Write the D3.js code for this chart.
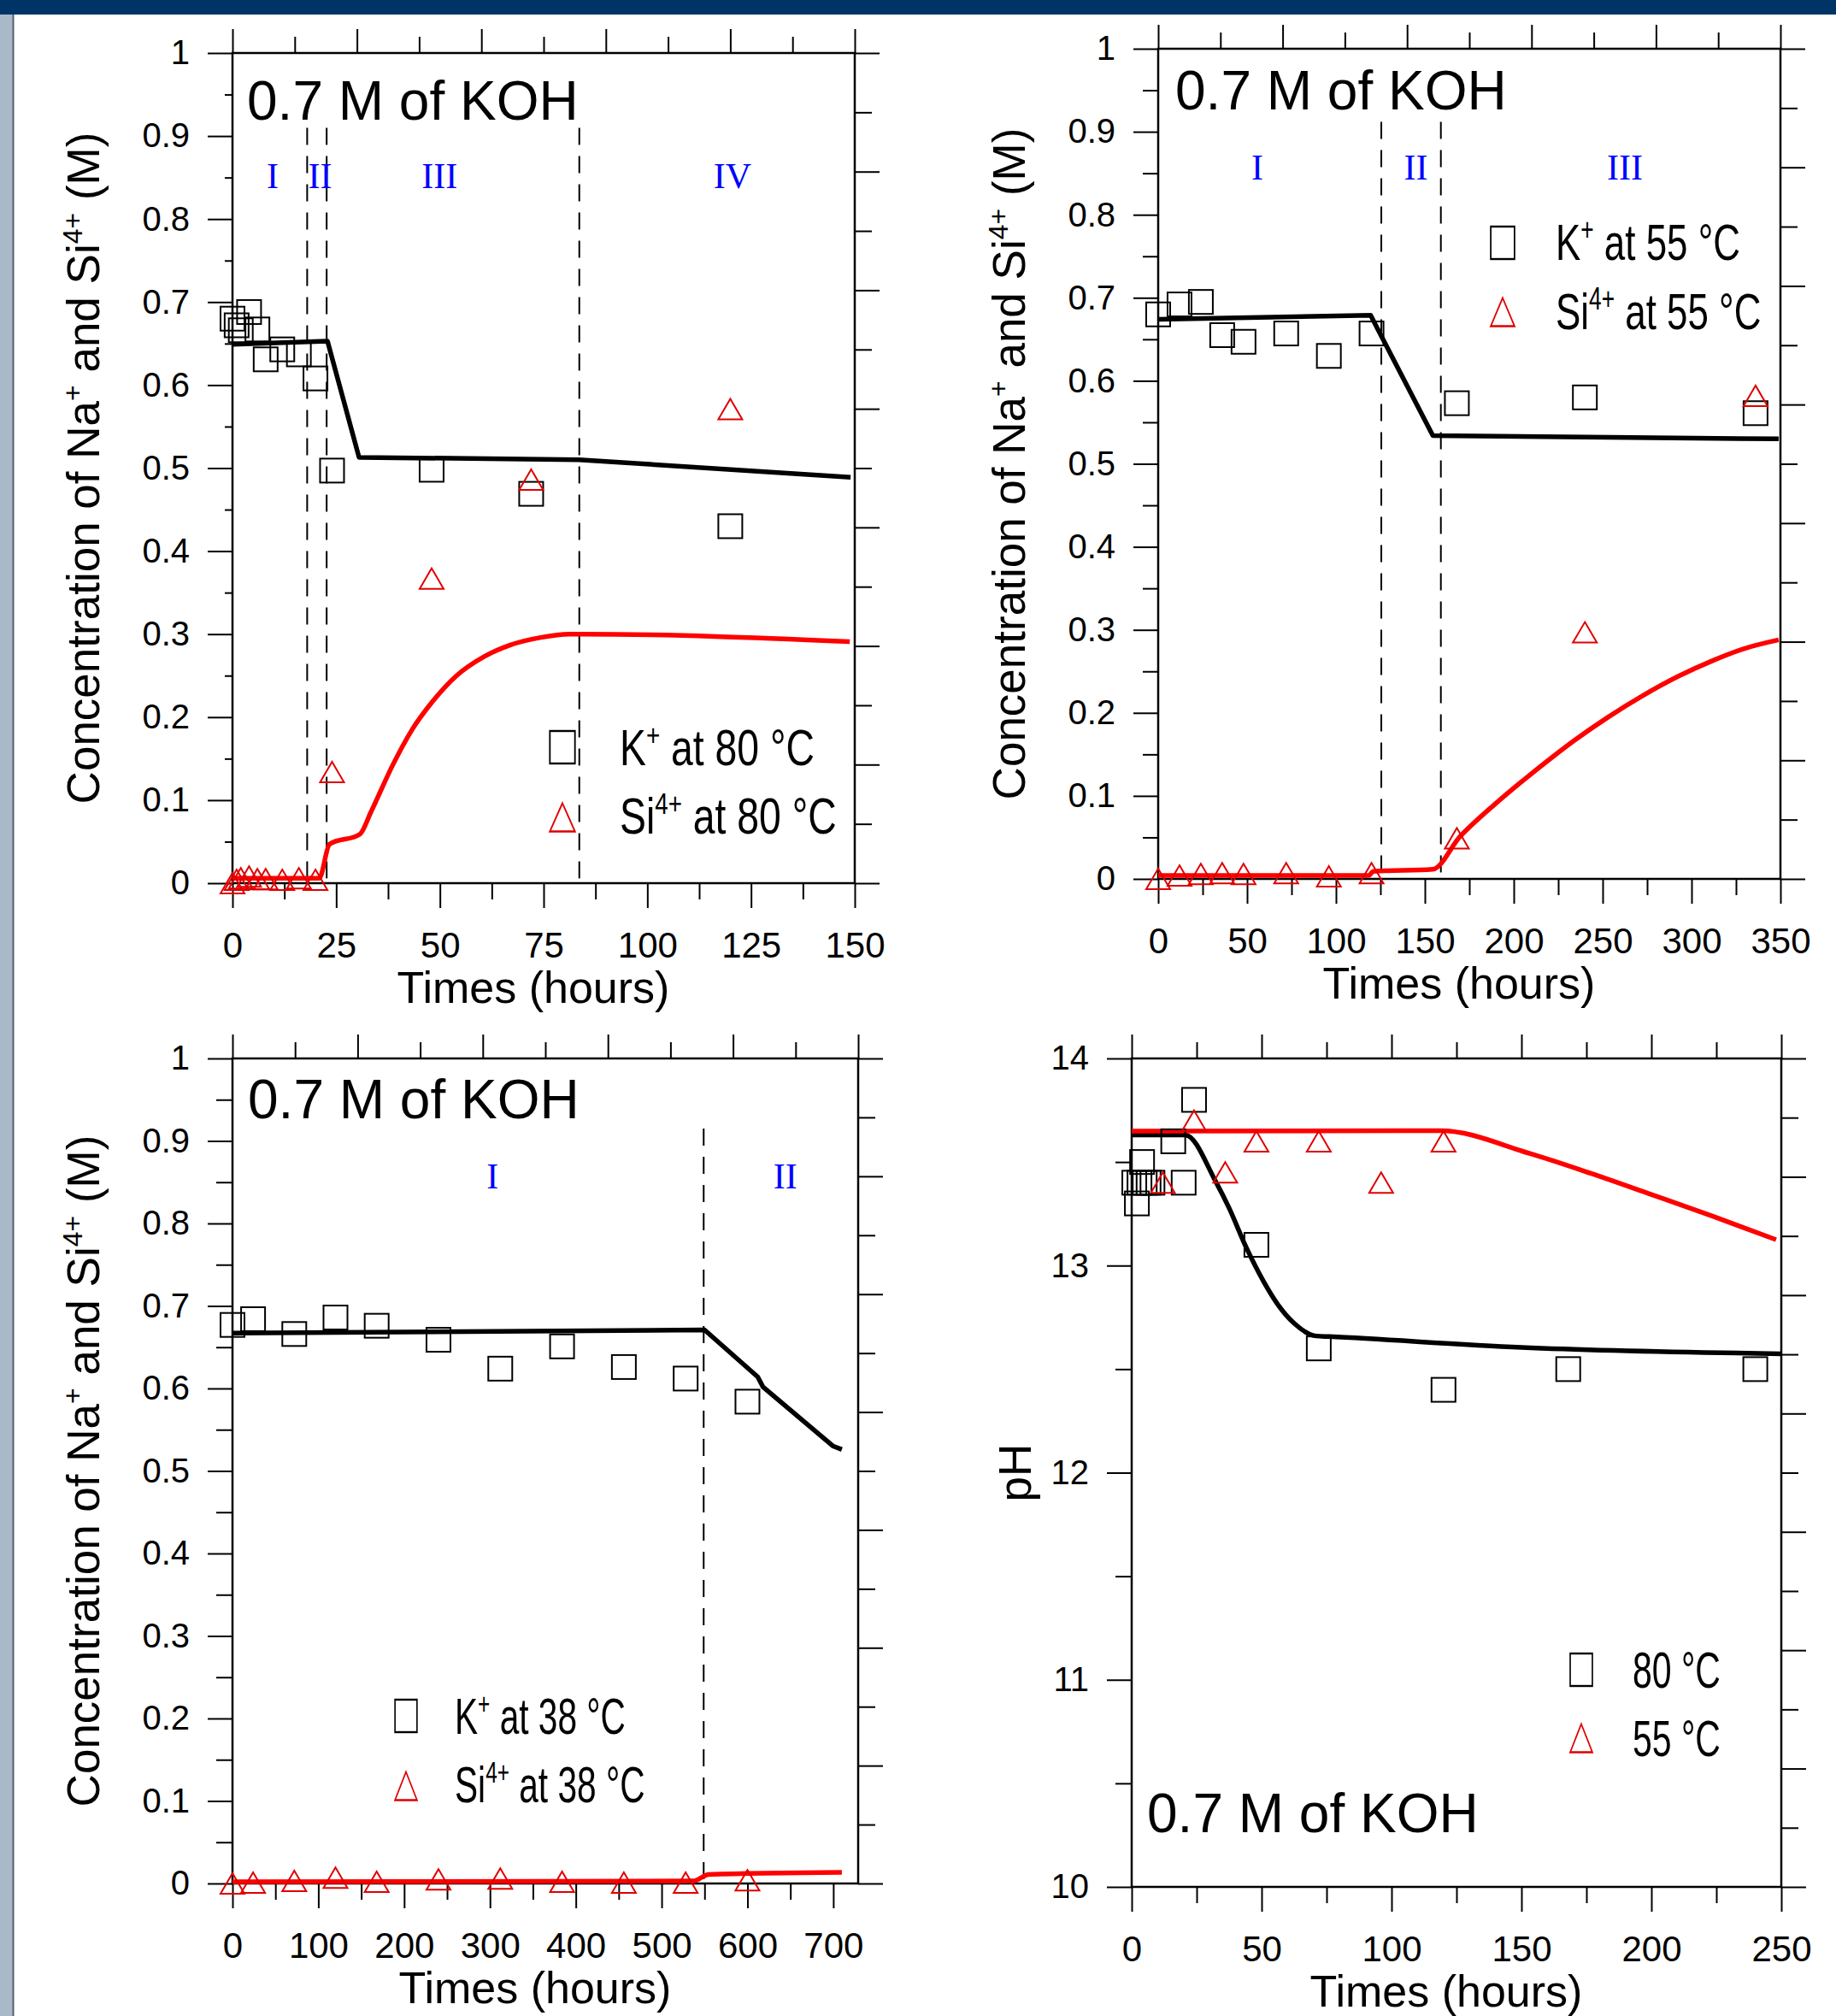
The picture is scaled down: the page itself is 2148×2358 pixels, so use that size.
<!DOCTYPE html>
<html>
<head>
<meta charset="utf-8">
<script src="https://cdn.jsdelivr.net/npm/d3@7"></script>
<style>
  body { margin: 0; background: #fff; }
  svg { display: block; }
  text { font-family: "Liberation Sans", Arial, sans-serif; }
</style>
</head>
<body>
<svg id="chart" width="2148" height="2358"></svg>
<script>
// ---- 80 C, 0.7 M KOH (concentration) ----
var k80Time = [0, 1, 2, 4, 6, 8, 12, 16, 20, 24, 48, 72, 120];
var k80Conc = [0.680, 0.672, 0.666, 0.688, 0.667, 0.631, 0.643, 0.637, 0.608, 0.497, 0.498, 0.469, 0.430];
var si80Time = [0, 1, 2, 4, 6, 8, 12, 16, 20, 24, 48, 72, 120];
var si80Conc = [0.000, 0.004, 0.006, 0.008, 0.005, 0.005, 0.004, 0.006, 0.004, 0.134, 0.367, 0.486, 0.571];
var k80ModelTime = [0, 22.9, 30.5, 83.5, 149];
var k80ModelConc = [0.649, 0.653, 0.513, 0.510, 0.489];
var si80ModelTime = [0, 20.9, 23.4, 30.7, 33.4, 38.6, 43.3, 48.1, 53.8, 60.7, 67, 74.3, 81.2, 83.9, 148.8];
var si80ModelConc = [0.006, 0.006, 0.047, 0.059, 0.086, 0.142, 0.185, 0.218, 0.249, 0.273, 0.287, 0.296, 0.300, 0.300, 0.291];

// ---- 55 C ----
var k55Time = [0, 12, 24, 36, 48, 72, 96, 120, 168, 240, 336];
var k55Conc = [0.680, 0.692, 0.695, 0.655, 0.647, 0.657, 0.630, 0.657, 0.573, 0.580, 0.561];
var si55Time = [0, 12, 24, 36, 48, 72, 96, 120, 168, 240, 336];
var si55Conc = [0.000, 0.004, 0.006, 0.007, 0.006, 0.007, 0.003, 0.007, 0.049, 0.297, 0.582];
var k55ModelTime = [0, 119.5, 125.5, 154.5, 349];
var k55ModelConc = [0.674, 0.679, 0.654, 0.534, 0.530];
var si55ModelTime = [0, 118.5, 120.9, 154.3, 169.8, 189.4, 206.6, 221.3, 233.6, 253.2, 272.8, 292.5, 312, 329, 349];
var si55ModelConc = [0.004, 0.004, 0.009, 0.0115, 0.051, 0.090, 0.121, 0.146, 0.166, 0.195, 0.221, 0.244, 0.263, 0.277, 0.288];

// ---- 38 C ----
var k38Time = [0, 24, 72, 120, 168, 240, 312, 384, 456, 528, 600];
var k38Conc = [0.677, 0.684, 0.666, 0.686, 0.676, 0.659, 0.624, 0.651, 0.626, 0.612, 0.584];
var si38Time = [0, 24, 72, 120, 168, 240, 312, 384, 456, 528, 600];
var si38Conc = [0.000, 0.001, 0.003, 0.007, 0.002, 0.005, 0.006, 0.002, 0.001, 0.001, 0.004];
var k38ModelTime = [0, 550, 612, 618, 700, 710];
var k38ModelConc = [0.667, 0.671, 0.614, 0.602, 0.530, 0.526];
var si38ModelTime = [0, 537, 554.7, 710];
var si38ModelConc = [0.002, 0.003, 0.011, 0.0135];

// ---- pH ----
var ph80Time = [1, 2, 3, 4, 5, 6.5, 8, 16, 20, 24, 48, 72, 120, 168, 240];
var ph80 = [13.4, 13.3, 13.4, 13.5, 13.4, 13.4, 13.4, 13.6, 13.4, 13.8, 13.1, 12.6, 12.4, 12.5, 12.5];
var ph55Time = [12, 24, 36, 48, 72, 96, 120];
var ph55 = [13.40, 13.70, 13.45, 13.60, 13.60, 13.40, 13.60];
var ph80ModelTime = [0, 20.6, 32.4, 37.4, 44.1, 50.9, 55.9, 62.6, 71, 76, 150, 250];
var ph80Model = [13.631, 13.631, 13.404, 13.28, 13.087, 12.92, 12.818, 12.72, 12.66, 12.657, 12.605, 12.574];
var ph55ModelTime = [0, 118.8, 153.2, 176.7, 200.2, 223.7, 248];
var ph55Model = [13.649, 13.651, 13.541, 13.445, 13.342, 13.238, 13.125];

// stage boundaries (hours) and stage labels
var stage80 = [18, 22.7, 83.6];
var stage55 = [125.5, 159];
var stage38 = [549];
var roman80 = ["I", "II", "III", "IV"], roman80X = [9.7, 21.1, 49.9, 120.5];
var roman55 = ["I", "II", "III"], roman55X = [55.8, 145, 262.5];
var roman38 = ["I", "II"], roman38X = [303, 644];

function zip(xs, ys) { return xs.map(function(v, i) { return [v, ys[i]]; }); }

var svg = d3.select("#chart");
var concFmt = function(d) { return d3.format(".1f")(d).replace(/\.0$/, ""); };

svg.append("rect").attr("x", 0).attr("y", 0).attr("width", 2148).attr("height", 17).attr("fill", "#003466");
svg.append("rect").attr("x", 0).attr("y", 17).attr("width", 15).attr("height", 2341).attr("fill", "#a9b9ca");
svg.append("line").attr("x1", 15.5).attr("x2", 15.5).attr("y1", 17).attr("y2", 2358)
  .attr("stroke", "#55606c").attr("stroke-width", 2);

var panels = [
  { left: 272, right: 1000, top: 62, bottom: 1033, xDomain: [0, 150], yDomain: [0, 1],
    xMajor: d3.range(0, 151, 25), xMinor: d3.range(12.5, 150, 25),
    yMajor: d3.range(0, 11).map(function(d) { return d / 10; }),
    yMinor: d3.range(0, 10).map(function(d) { return d / 10 + 0.05; }), minorLen: 9, yFmt: concFmt,
    squares: zip(k80Time, k80Conc), triangles: zip(si80Time, si80Conc),
    blackLine: zip(k80ModelTime, k80ModelConc), redLine: zip(si80ModelTime, si80ModelConc), blackSmooth: false,
    stages: stage80, dashTop: 0.91, roman: roman80, romanX: roman80X, romanY: 0.837,
    koh: [289, 140], yTitle: "conc", yTitleX: 116,
    legend: { symX: 658, symY: [874, 956], textX: 725, base: [895, 975], width: 228,
      labels: [["K", "+", " at 80 \u00B0C"], ["Si", "4+", " at 80 \u00B0C"]] } },
  { left: 1355, right: 2083, top: 57, bottom: 1028, xDomain: [0, 350], yDomain: [0, 1],
    xMajor: d3.range(0, 351, 50), xMinor: d3.range(25, 350, 50),
    yMajor: d3.range(0, 11).map(function(d) { return d / 10; }),
    yMinor: d3.range(0, 10).map(function(d) { return d / 10 + 0.05; }), minorLen: 18, yFmt: concFmt,
    squares: zip(k55Time, k55Conc), triangles: zip(si55Time, si55Conc),
    blackLine: zip(k55ModelTime, k55ModelConc), redLine: zip(si55ModelTime, si55ModelConc), blackSmooth: false,
    stages: stage55, dashTop: 0.912, roman: roman55, romanX: roman55X, romanY: 0.842,
    koh: [1375, 128], yTitle: "conc", yTitleX: 1199,
    legend: { symX: 1758, symY: [284, 365], textX: 1820, base: [304, 385], width: 216,
      labels: [["K", "+", " at 55 \u00B0C"], ["Si", "4+", " at 55 \u00B0C"]] } },
  { left: 272, right: 1004, top: 1238, bottom: 2203, xDomain: [0, 729], yDomain: [0, 1],
    xMajor: d3.range(0, 701, 100), xMinor: d3.range(50, 700, 100),
    yMajor: d3.range(0, 11).map(function(d) { return d / 10; }),
    yMinor: d3.range(0, 10).map(function(d) { return d / 10 + 0.05; }), minorLen: 19, yFmt: concFmt,
    squares: zip(k38Time, k38Conc), triangles: zip(si38Time, si38Conc),
    blackLine: zip(k38ModelTime, k38ModelConc), redLine: zip(si38ModelTime, si38ModelConc), blackSmooth: false,
    stages: stage38, dashTop: 0.915, roman: roman38, romanX: roman38X, romanY: 0.842,
    koh: [290, 1308], yTitle: "conc", yTitleX: 116,
    legend: { symX: 475, symY: [2007, 2089], textX: 532, base: [2028, 2108], width: 200,
      labels: [["K", "+", " at 38 \u00B0C"], ["Si", "4+", " at 38 \u00B0C"]] } },
  { left: 1324, right: 2084, top: 1238, bottom: 2207, xDomain: [0, 250], yDomain: [10, 14],
    xMajor: d3.range(0, 251, 50), xMinor: d3.range(25, 250, 50),
    yMajor: [10, 11, 12, 13, 14], yMinor: [10.5, 11.5, 12.5, 13.5], minorLen: 19, yFmt: d3.format("d"),
    squares: zip(ph80Time, ph80), triangles: zip(ph55Time, ph55),
    blackLine: zip(ph80ModelTime, ph80Model), redLine: zip(ph55ModelTime, ph55Model), blackSmooth: true,
    stages: [], roman: [], romanX: [], romanY: 0,
    koh: [1342, 2143], yTitle: "pH", yTitleX: 1206,
    legend: { symX: 1850, symY: [1953, 2033], textX: 1910, base: [1974, 2054], width: 103,
      labels: [["80 \u00B0C"], ["55 \u00B0C"]] } }
];

function styleAxis(sel, fs) {
  sel.select(".domain").remove();
  sel.selectAll(".tick line").attr("stroke", "#000").attr("stroke-width", 2);
  sel.selectAll("text").attr("fill", "#000").attr("font-size", fs)
    .attr("font-family", "'Liberation Sans', Arial, sans-serif");
}

function supText(sel, parts, fs) {
  sel.append("tspan").text(parts[0]);
  if (parts.length > 1) {
    sel.append("tspan").attr("font-size", fs * 0.6).attr("dy", -fs * 0.38).text(parts[1]);
    sel.append("tspan").attr("font-size", fs).attr("dy", fs * 0.38).text(parts[2]);
  }
}

var triPath = "M0,-12L14,12L-14,12Z";
var triLegend = "M0,-16.5L19,16.5L-19,16.5Z";

panels.forEach(function(p) {
  var g = svg.append("g");
  var x = d3.scaleLinear().domain(p.xDomain).range([p.left, p.right]);
  var y = d3.scaleLinear().domain(p.yDomain).range([p.bottom, p.top]);
  var tx = d3.scaleLinear().domain([0, 10]).range([p.left, p.right]);
  var ty = d3.scaleLinear().domain([0, 14]).range([p.bottom, p.top]);

  // axes
  g.append("g").attr("transform", "translate(0," + p.bottom + ")")
    .call(d3.axisBottom(x).tickValues(p.xMajor).tickSize(29).tickPadding(28).tickSizeOuter(0))
    .call(styleAxis, 42);
  g.append("g").attr("transform", "translate(0," + p.bottom + ")")
    .call(d3.axisBottom(x).tickValues(p.xMinor).tickSize(19).tickFormat("").tickSizeOuter(0))
    .call(styleAxis, 42);
  g.append("g").attr("transform", "translate(" + p.left + ",0)")
    .call(d3.axisLeft(y).tickValues(p.yMajor).tickSize(29).tickPadding(21).tickFormat(p.yFmt).tickSizeOuter(0))
    .call(styleAxis, 40);
  g.append("g").attr("transform", "translate(" + p.left + ",0)")
    .call(d3.axisLeft(y).tickValues(p.yMinor).tickSize(p.minorLen).tickFormat("").tickSizeOuter(0))
    .call(styleAxis, 40);
  g.append("g").attr("transform", "translate(0," + p.top + ")")
    .call(d3.axisTop(tx).tickValues([0, 2, 4, 6, 8, 10]).tickSize(28).tickFormat("").tickSizeOuter(0))
    .call(styleAxis, 40);
  g.append("g").attr("transform", "translate(0," + p.top + ")")
    .call(d3.axisTop(tx).tickValues([1, 3, 5, 7, 9]).tickSize(19).tickFormat("").tickSizeOuter(0))
    .call(styleAxis, 40);
  g.append("g").attr("transform", "translate(" + p.right + ",0)")
    .call(d3.axisRight(ty).tickValues(d3.range(0, 15, 2)).tickSize(29).tickFormat("").tickSizeOuter(0))
    .call(styleAxis, 40);
  g.append("g").attr("transform", "translate(" + p.right + ",0)")
    .call(d3.axisRight(ty).tickValues(d3.range(1, 14, 2)).tickSize(20).tickFormat("").tickSizeOuter(0))
    .call(styleAxis, 40);

  g.append("rect").attr("x", p.left).attr("y", p.top)
    .attr("width", p.right - p.left).attr("height", p.bottom - p.top)
    .attr("fill", "none").attr("stroke", "#000").attr("stroke-width", 2.5);

  // stage boundaries
  g.selectAll(".stage").data(p.stages).enter().append("line")
    .attr("x1", function(d) { return x(d); }).attr("x2", function(d) { return x(d); })
    .attr("y1", y(p.dashTop)).attr("y2", y(p.yDomain[0]))
    .attr("stroke", "#000").attr("stroke-width", 2).attr("stroke-dasharray", "20,13");

  g.selectAll(".roman").data(p.roman).enter().append("text")
    .attr("x", function(d, i) { return x(p.romanX[i]); }).attr("y", y(p.romanY))
    .attr("text-anchor", "middle").attr("fill", "#0000ff").attr("font-size", 42)
    .style("font-family", "'Liberation Serif', 'Times New Roman', serif")
    .text(function(d) { return d; });

  // model lines
  var line = d3.line().x(function(d) { return x(d[0]); }).y(function(d) { return y(d[1]); });
  var smooth = d3.line().x(function(d) { return x(d[0]); }).y(function(d) { return y(d[1]); })
    .curve(d3.curveMonotoneX);
  g.append("path").datum(p.blackLine).attr("d", p.blackSmooth ? smooth : line).attr("fill", "none")
    .attr("stroke", "#000").attr("stroke-width", 5.5).attr("stroke-linejoin", "round");
  g.append("path").datum(p.redLine).attr("d", smooth).attr("fill", "none")
    .attr("stroke", "#ff0000").attr("stroke-width", 5.5).attr("stroke-linejoin", "round");

  // data markers
  g.selectAll(".sq").data(p.squares).enter().append("rect")
    .attr("x", function(d) { return x(d[0]) - 14; }).attr("y", function(d) { return y(d[1]) - 14; })
    .attr("width", 28).attr("height", 28)
    .attr("fill", "none").attr("stroke", "#000").attr("stroke-width", 2);
  g.selectAll(".tri").data(p.triangles).enter().append("path")
    .attr("d", triPath)
    .attr("transform", function(d) { return "translate(" + x(d[0]) + "," + y(d[1]) + ")"; })
    .attr("fill", "none").attr("stroke", "#e00000").attr("stroke-width", 2);

  // solution label
  g.append("text").attr("x", p.koh[0]).attr("y", p.koh[1])
    .attr("font-size", 64).attr("fill", "#000").text("0.7 M of KOH");

  // axis titles
  g.append("text").attr("x", (p.left + p.right) / 2 - 12).attr("y", p.bottom + 140)
    .attr("text-anchor", "middle").attr("font-size", 52).attr("fill", "#000").text("Times (hours)");
  var yt = g.append("text")
    .attr("transform", "translate(" + p.yTitleX + "," + (p.top + p.bottom) / 2 + ") rotate(-90)")
    .attr("text-anchor", "middle").attr("font-size", 53).attr("fill", "#000");
  if (p.yTitle === "pH") {
    yt.text("pH");
  } else {
    yt.append("tspan").text("Concentration of Na");
    yt.append("tspan").attr("font-size", 32).attr("dy", -20).text("+");
    yt.append("tspan").attr("font-size", 53).attr("dy", 20).text(" and Si");
    yt.append("tspan").attr("font-size", 32).attr("dy", -20).text("4+");
    yt.append("tspan").attr("font-size", 53).attr("dy", 20).text(" (M)");
  }

  // legend (condensed)
  var L = p.legend;
  var lg = g.append("g");
  var fs = 60;
  var texts = L.labels.map(function(parts, i) {
    var t = lg.append("text").attr("x", L.textX - L.symX).attr("y", L.base[i])
      .attr("font-size", fs).attr("fill", "#000");
    supText(t, parts, fs);
    return t;
  });
  var sx = L.width / texts[0].node().getComputedTextLength();
  texts.forEach(function(t) { t.attr("x", (L.textX - L.symX) / sx); });
  lg.append("rect").attr("x", -19).attr("y", L.symY[0] - 19).attr("width", 38).attr("height", 38)
    .attr("fill", "none").attr("stroke", "#000").attr("stroke-width", 2.4);
  lg.append("path").attr("d", triLegend).attr("transform", "translate(0," + L.symY[1] + ")")
    .attr("fill", "none").attr("stroke", "#e00000").attr("stroke-width", 2.4);
  lg.attr("transform", "translate(" + L.symX + ",0) scale(" + sx + ",1)");
});
</script>
</body>
</html>
